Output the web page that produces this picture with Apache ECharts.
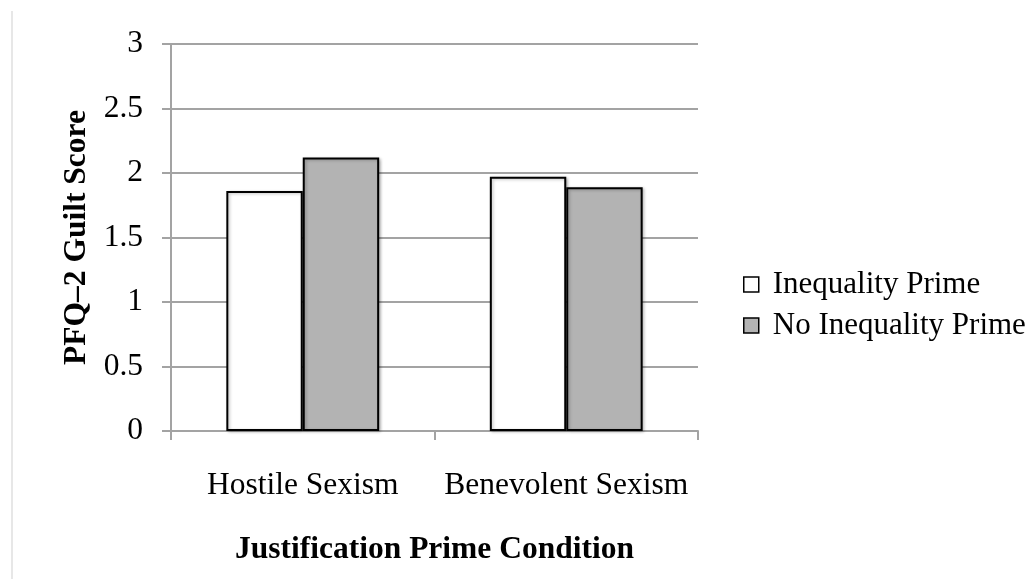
<!DOCTYPE html>
<html>
<head>
<meta charset="utf-8">
<script src="https://cdn.jsdelivr.net/npm/echarts@6/dist/echarts.min.js"></script>
<style>
html,body{margin:0;padding:0;background:#fff;}
#chart{width:1033px;height:579px;}
</style>
</head>
<body>
<div id="chart"></div>
<script>
const categories = ['Hostile Sexism', 'Benevolent Sexism'];
const seriesNames = ['Inequality Prime', 'No Inequality Prime'];
const inequalityPrime = [1.86, 1.97];
const noInequalityPrime = [2.12, 1.89];
const yTicks = [0, 0.5, 1, 1.5, 2, 2.5, 3];

const FONT = '"Liberation Serif", "Times New Roman", serif';
const GRID_COLOR = '#a3a3a3';

const chart = echarts.init(document.getElementById('chart'), null, {renderer: 'canvas'});
chart.setOption({
  backgroundColor: '#fff',
  animation: false,
  textStyle: {fontFamily: FONT, color: '#000'},
  graphic: [{
    type: 'line',
    shape: {x1: 12, y1: 11, x2: 12, y2: 579},
    style: {stroke: '#cfcfcf', lineWidth: 1}
  }],
  grid: {left: 171, right: 335, top: 44, bottom: 148, containLabel: false},
  legend: {
    orient: 'vertical',
    left: 738,
    top: 264,
    itemWidth: 15,
    itemHeight: 15,
    itemGap: 10,
    icon: 'rect',
    itemStyle: {borderColor: '#000', borderWidth: 1.5},
    textStyle: {fontFamily: FONT, fontSize: 31, color: '#000', padding: [0, 0, 0, 9]},
    data: seriesNames
  },
  xAxis: {
    type: 'category',
    data: categories,
    name: 'Justification Prime Condition',
    nameLocation: 'middle',
    nameGap: 103,
    nameTextStyle: {fontFamily: FONT, fontSize: 31.5, fontWeight: 'bold', color: '#000'},
    axisLine: {show: true, lineStyle: {color: GRID_COLOR, width: 2}},
    axisTick: {show: true, length: 9, alignWithLabel: false, lineStyle: {color: GRID_COLOR, width: 2}},
    axisLabel: {fontFamily: FONT, fontSize: 31.5, color: '#000', margin: 39, interval: 0, hideOverlap: false}
  },
  yAxis: {
    type: 'value',
    min: yTicks[0],
    max: yTicks[yTicks.length - 1],
    interval: 0.5,
    name: 'PFQ\u20132 Guilt Score',
    nameLocation: 'middle',
    nameRotate: 90,
    nameGap: 77,
    nameTextStyle: {fontFamily: FONT, fontSize: 31.5, fontWeight: 'bold', color: '#000'},
    axisLine: {show: true, lineStyle: {color: GRID_COLOR, width: 2}},
    axisTick: {show: true, length: 9, lineStyle: {color: GRID_COLOR, width: 2}},
    axisLabel: {fontFamily: FONT, fontSize: 31.5, color: '#000', margin: 28},
    splitLine: {show: true, lineStyle: {color: GRID_COLOR, width: 2}}
  },
  series: [
    {
      name: seriesNames[0],
      type: 'bar',
      data: inequalityPrime,
      barGap: '0%',
      barCategoryGap: '42%',
      itemStyle: {color: '#ffffff', borderColor: '#000', borderWidth: 2,
        shadowColor: 'rgba(0,0,0,0.25)', shadowBlur: 3, shadowOffsetX: 1.5, shadowOffsetY: 1}
    },
    {
      name: seriesNames[1],
      type: 'bar',
      data: noInequalityPrime,
      barGap: '0%',
      barCategoryGap: '42%',
      itemStyle: {color: '#b3b3b3', borderColor: '#000', borderWidth: 2,
        shadowColor: 'rgba(0,0,0,0.25)', shadowBlur: 3, shadowOffsetX: 1.5, shadowOffsetY: 1}
    }
  ]
});
</script>
</body>
</html>
